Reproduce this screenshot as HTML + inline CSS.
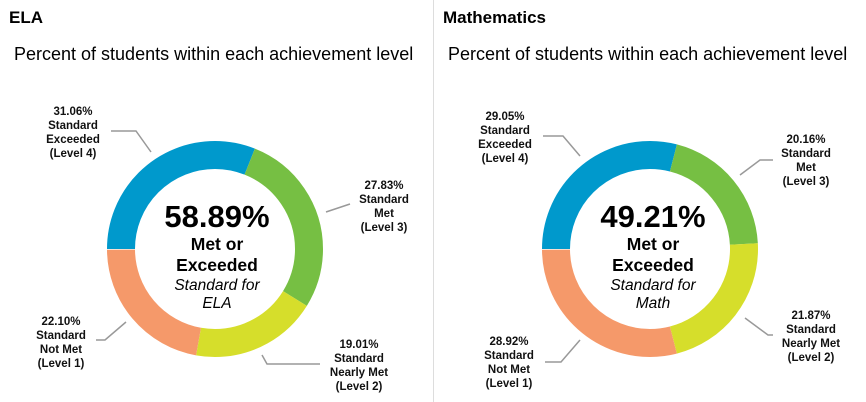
<!DOCTYPE html>
<html><head><meta charset="utf-8"><style>
html,body{margin:0;padding:0;background:#fff;width:866px;height:402px;overflow:hidden}
svg{display:block;font-family:"Liberation Sans",Arial,sans-serif}
.l{font-size:11.5px;font-weight:bold;fill:#111;text-anchor:middle}
.ld{stroke:#999;stroke-width:1.5;fill:none}
</style></head><body>
<svg width="866" height="402" viewBox="0 0 866 402">
<line x1="433.5" y1="0" x2="433.5" y2="402" stroke="#ddd" stroke-width="1"/>
<text x="9" y="23" font-size="17" font-weight="bold">ELA</text>
<text x="14" y="60" font-size="18">Percent of students within each achievement level</text>
<text x="443" y="23" font-size="17" font-weight="bold">Mathematics</text>
<text x="448" y="60" font-size="18">Percent of students within each achievement level</text>

<g transform="translate(215,249) rotate(180)" fill="none" stroke-width="28">
<circle r="94" pathLength="100" stroke="#0099cc" stroke-dasharray="31.06 100" stroke-dashoffset="0"/>
<circle r="94" pathLength="100" stroke="#76bf43" stroke-dasharray="27.83 100" stroke-dashoffset="-31.06"/>
<circle r="94" pathLength="100" stroke="#d6de2b" stroke-dasharray="19.01 100" stroke-dashoffset="-58.89"/>
<circle r="94" pathLength="100" stroke="#f5996a" stroke-dasharray="22.10 100" stroke-dashoffset="-77.90"/>
</g>
<g text-anchor="middle" fill="#000">
<text x="217" y="227" font-size="31" font-weight="bold">58.89%</text>
<text x="217" y="250" font-size="17.5" font-weight="bold">Met or</text>
<text x="217" y="271" font-size="17.5" font-weight="bold">Exceeded</text>
<text x="217" y="290" font-size="15.5" font-style="italic">Standard for</text>
<text x="217" y="308" font-size="15.5" font-style="italic">ELA</text>
</g>
<polyline class="ld" points="111,131 136,131 151,152"/>
<polyline class="ld" points="326,212 350,204"/>
<polyline class="ld" points="262,355 267,364 320,364"/>
<polyline class="ld" points="126,322 105,340 96,340"/>
<g class="l">
<text x="73" y="115">31.06%</text><text x="73" y="129">Standard</text><text x="73" y="143">Exceeded</text><text x="73" y="157">(Level 4)</text>
<text x="384" y="189">27.83%</text><text x="384" y="203">Standard</text><text x="384" y="217">Met</text><text x="384" y="231">(Level 3)</text>
<text x="359" y="348">19.01%</text><text x="359" y="362">Standard</text><text x="359" y="376">Nearly Met</text><text x="359" y="390">(Level 2)</text>
<text x="61" y="325">22.10%</text><text x="61" y="339">Standard</text><text x="61" y="353">Not Met</text><text x="61" y="367">(Level 1)</text>
</g>

<g transform="translate(650,249) rotate(180)" fill="none" stroke-width="28">
<circle r="94" pathLength="100" stroke="#0099cc" stroke-dasharray="29.05 100" stroke-dashoffset="0"/>
<circle r="94" pathLength="100" stroke="#76bf43" stroke-dasharray="20.16 100" stroke-dashoffset="-29.05"/>
<circle r="94" pathLength="100" stroke="#d6de2b" stroke-dasharray="21.87 100" stroke-dashoffset="-49.21"/>
<circle r="94" pathLength="100" stroke="#f5996a" stroke-dasharray="28.92 100" stroke-dashoffset="-71.08"/>
</g>
<g text-anchor="middle" fill="#000">
<text x="653" y="227" font-size="31" font-weight="bold">49.21%</text>
<text x="653" y="250" font-size="17.5" font-weight="bold">Met or</text>
<text x="653" y="271" font-size="17.5" font-weight="bold">Exceeded</text>
<text x="653" y="290" font-size="15.5" font-style="italic">Standard for</text>
<text x="653" y="308" font-size="15.5" font-style="italic">Math</text>
</g>
<polyline class="ld" points="543,136 563,136 580,156"/>
<polyline class="ld" points="740,175 760,160 773,160"/>
<polyline class="ld" points="745,318 768,335 773,335"/>
<polyline class="ld" points="580,340 561,362 545,362"/>
<g class="l">
<text x="505" y="120">29.05%</text><text x="505" y="134">Standard</text><text x="505" y="148">Exceeded</text><text x="505" y="162">(Level 4)</text>
<text x="806" y="143">20.16%</text><text x="806" y="157">Standard</text><text x="806" y="171">Met</text><text x="806" y="185">(Level 3)</text>
<text x="811" y="319">21.87%</text><text x="811" y="333">Standard</text><text x="811" y="347">Nearly Met</text><text x="811" y="361">(Level 2)</text>
<text x="509" y="345">28.92%</text><text x="509" y="359">Standard</text><text x="509" y="373">Not Met</text><text x="509" y="387">(Level 1)</text>
</g>
</svg>
</body></html>
